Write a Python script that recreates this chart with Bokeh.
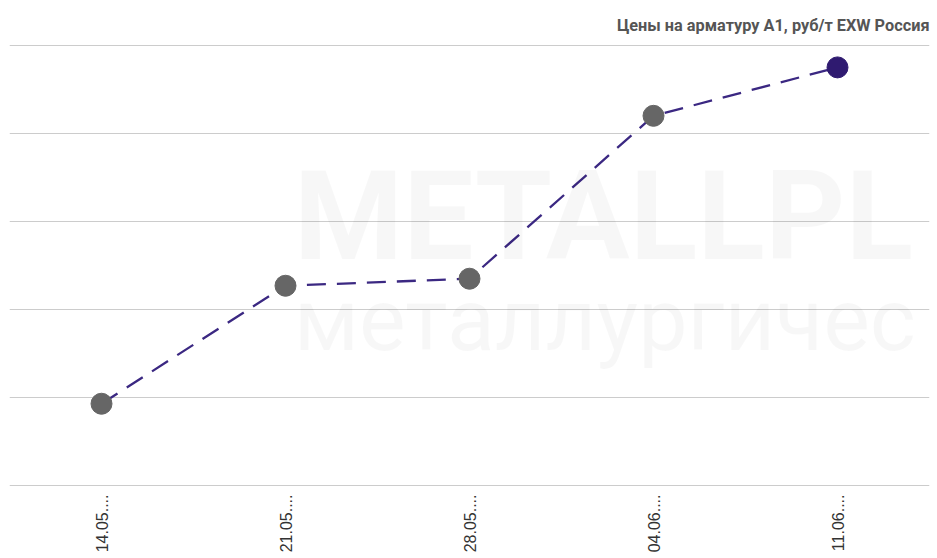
import math
from bokeh.plotting import figure
from bokeh.models import FactorRange, Range1d, FixedTicker, Label
from bokeh.embed import file_html
from bokeh.resources import INLINE

# ---- data ----
dates = ["14.05....", "21.05....", "28.05....", "04.06....", "11.06...."]
prices = [54930, 56270, 56350, 58200, 58750]
y_ticks = [54000, 55000, 56000, 57000, 58000, 59000]
title_text = "Цены на арматуру А1, руб/т EXW Россия"
watermark_big = "METALLPL"
watermark_small = "металлургичес"

# ---- styles ----
grey_pt = "#666666"
last_pt = "#2f1a70"
point_colors = [grey_pt] * (len(dates) - 1) + [last_pt]

p = figure(
    x_range=FactorRange(*dates, range_padding=0),
    y_range=Range1d(y_ticks[0] - 10, y_ticks[-1] + 10),
    width=935, height=556,
    output_backend="svg", toolbar_location=None,
    min_border_left=9, min_border_right=6,
    min_border_top=44, min_border_bottom=70,
)

p.title.text = title_text
p.title.align = "right"
p.title.text_font = "Roboto"
p.title.text_font_size = "16.3px"
p.title.text_font_style = "bold"
p.title.text_color = "#555555"
p.title.standoff = 20

p.outline_line_color = None
p.background_fill_color = "white"
p.border_fill_color = "white"

# faint watermark
p.add_layout(Label(x=1.545, y=56220, text=watermark_big, text_font="Roboto",
                   text_font_style="bold", text_font_size="125px",
                   text_color="#000000", text_alpha=0.03))
p.add_layout(Label(x=1.545, y=55300, text=watermark_small, text_font="Roboto",
                   text_font_size="88px", text_color="#000000", text_alpha=0.03))

p.line(dates, prices, line_color="#3b2882", line_width=2.3, line_dash="19 11")
p.scatter(dates, prices, size=21, fill_color=point_colors, line_color=point_colors)

p.yaxis.visible = False
p.ygrid.ticker = FixedTicker(ticks=y_ticks)
p.ygrid.grid_line_color = "#cccccc"
p.ygrid.grid_line_width = 1
p.xgrid.grid_line_color = None

xa = p.xaxis[0]
xa.axis_line_color = None
xa.major_tick_line_color = None
xa.minor_tick_line_color = None
xa.major_tick_out = 0
xa.major_tick_in = 0
xa.major_label_orientation = math.pi / 2
xa.major_label_text_font = "Liberation Sans"
xa.major_label_text_font_size = "16px"
xa.major_label_text_color = "#333333"
xa.major_label_standoff = 8

open("out.html", "w").write(file_html(p, INLINE))
